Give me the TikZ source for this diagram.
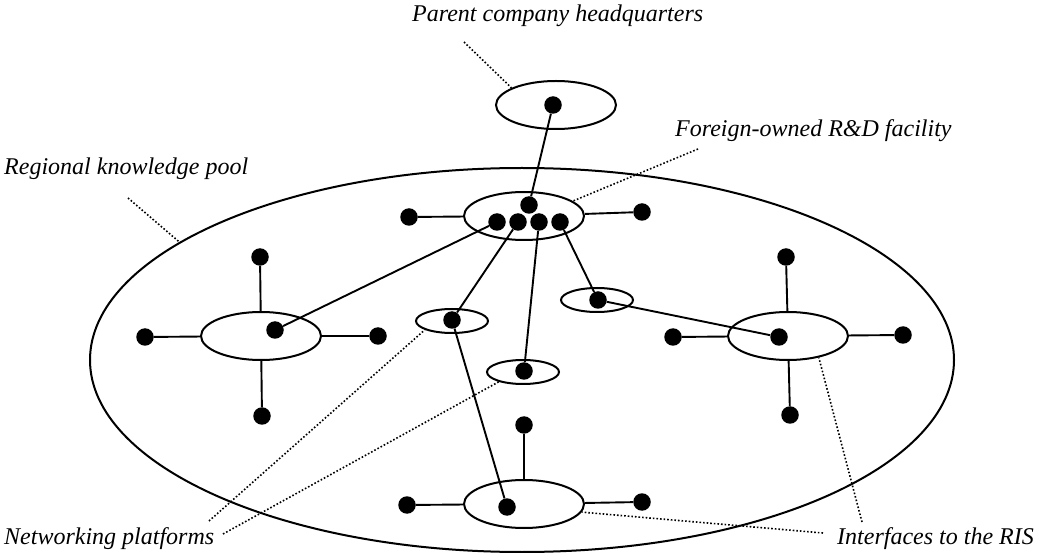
\documentclass[tikz,border=0pt]{standalone}
\usepackage{fontspec}
\setmainfont{Liberation Serif}
\usetikzlibrary{shapes.geometric}

\tikzset{
  unit/.style={ellipse, draw, line width=2pt, minimum width=120pt, minimum height=48pt, inner sep=0pt},
  platform/.style={ellipse, draw, line width=2pt, minimum width=72pt, minimum height=24pt, inner sep=0pt},
  actor/.style={circle, fill=black, minimum size=17.5pt, inner sep=0pt},
  link/.style={line width=1.9pt},
  leader/.style={line width=1.6pt, dash pattern=on 1.6pt off 2pt},
  caption/.style={anchor=base west, inner sep=0pt, font=\fontsize{24}{28}\selectfont\itshape}
}

\begin{document}
\begin{tikzpicture}[x=1pt, y=-1pt]
\useasboundingbox (0,0) rectangle (1037,553);

% regional knowledge pool
\node[ellipse, draw, line width=2pt, minimum width=864pt, minimum height=384pt, inner sep=0pt] (pool) at (522,360) {};

% parent company and foreign-owned facility
\node[unit] (hq) at (556,105) {};
\node[actor] (hqd) at (553,105) {};

\node[unit] (fo) at (524,216) {};
\node[actor] (fot) at (529,205) {};
\node[actor] (fo1) at (497,222) {};
\node[actor] (fo2) at (518,222) {};
\node[actor] (fo3) at (539,222) {};
\node[actor] (fo4) at (560,222) {};
\node[actor] (foL) at (409,217) {};
\node[actor] (foR) at (642,212) {};

% networking platforms
\node[platform] (np1) at (452,321) {};
\node[actor] (np1d) at (452,320) {};
\node[platform] (np2) at (523,372) {};
\node[actor] (np2d) at (524,371) {};
\node[platform] (np3) at (597,300) {};
\node[actor] (np3d) at (598,300) {};

% left cluster
\node[unit] (lc) at (261,336) {};
\node[actor] (lcd) at (275,330) {};
\node[actor] (lcT) at (260,257) {};
\node[actor] (lcB) at (262,416) {};
\node[actor] (lcL) at (145,337) {};
\node[actor] (lcR) at (378,336) {};

% right cluster
\node[unit] (rc) at (788,336) {};
\node[actor] (rcd) at (779,337) {};
\node[actor] (rcT) at (786,257) {};
\node[actor] (rcB) at (790,415) {};
\node[actor] (rcL) at (673,337) {};
\node[actor] (rcR) at (903,335) {};

% bottom cluster
\node[unit] (bc) at (524,504) {};
\node[actor] (bcd) at (507,507) {};
\node[actor] (bcT) at (524,425) {};
\node[actor] (bcL) at (407,505) {};
\node[actor] (bcR) at (642,502) {};

% spokes to the units
\foreach \u in {lc,rc} {
  \foreach \s in {T,B,L,R} \draw[link] (\u\s) -- (\u);
}
\foreach \s in {T,L,R} \draw[link] (bc\s) -- (bc);
\draw[link] (foL) -- (fo);
\draw[link] (foR) -- (fo);

% links between actors
\draw[link] (hqd) -- (fot);
\draw[link] (fo1) -- (lcd);
\draw[link] (fo2) -- (np1d);
\draw[link] (fo3) -- (np2d);
\draw[link] (fo4) -- (np3d);
\draw[link] (np3d) -- (rcd);
\draw[link] (np1d) -- (bcd);

% captions
\node[caption] (tHQ) at (412,22) {Parent company headquarters};
\node[caption] (tFO) at (675,137) {Foreign-owned R\&D facility};
\node[caption] (tRP) at (4,175) {Regional knowledge pool};
\node[caption] (tNP) at (4,544) {Networking platforms};
\node[caption] (tIF) at (837,544) {Interfaces to the RIS};

% leader ends
\coordinate (lHQ) at (464,42);
\coordinate (lFO) at (698,149);
\coordinate (lRP) at (128,198);
\coordinate (lNP1) at (209,521);
\coordinate (lNP2) at (223,534);
\coordinate (lIF1) at (862,522);
\coordinate (lIF2) at (823,533);

\draw[leader] (lHQ) -- (hq.159);
\draw[leader] (lFO) -- (fo.17);
\draw[leader] (lRP) -- (pool.161);
\draw[leader] (lNP1) -- (np1.198);
\draw[leader] (lNP2) -- (np2.202);
\draw[leader] (lIF1) -- (rc.325);
\draw[leader] (lIF2) -- (bc.352);
\end{tikzpicture}
\end{document}
